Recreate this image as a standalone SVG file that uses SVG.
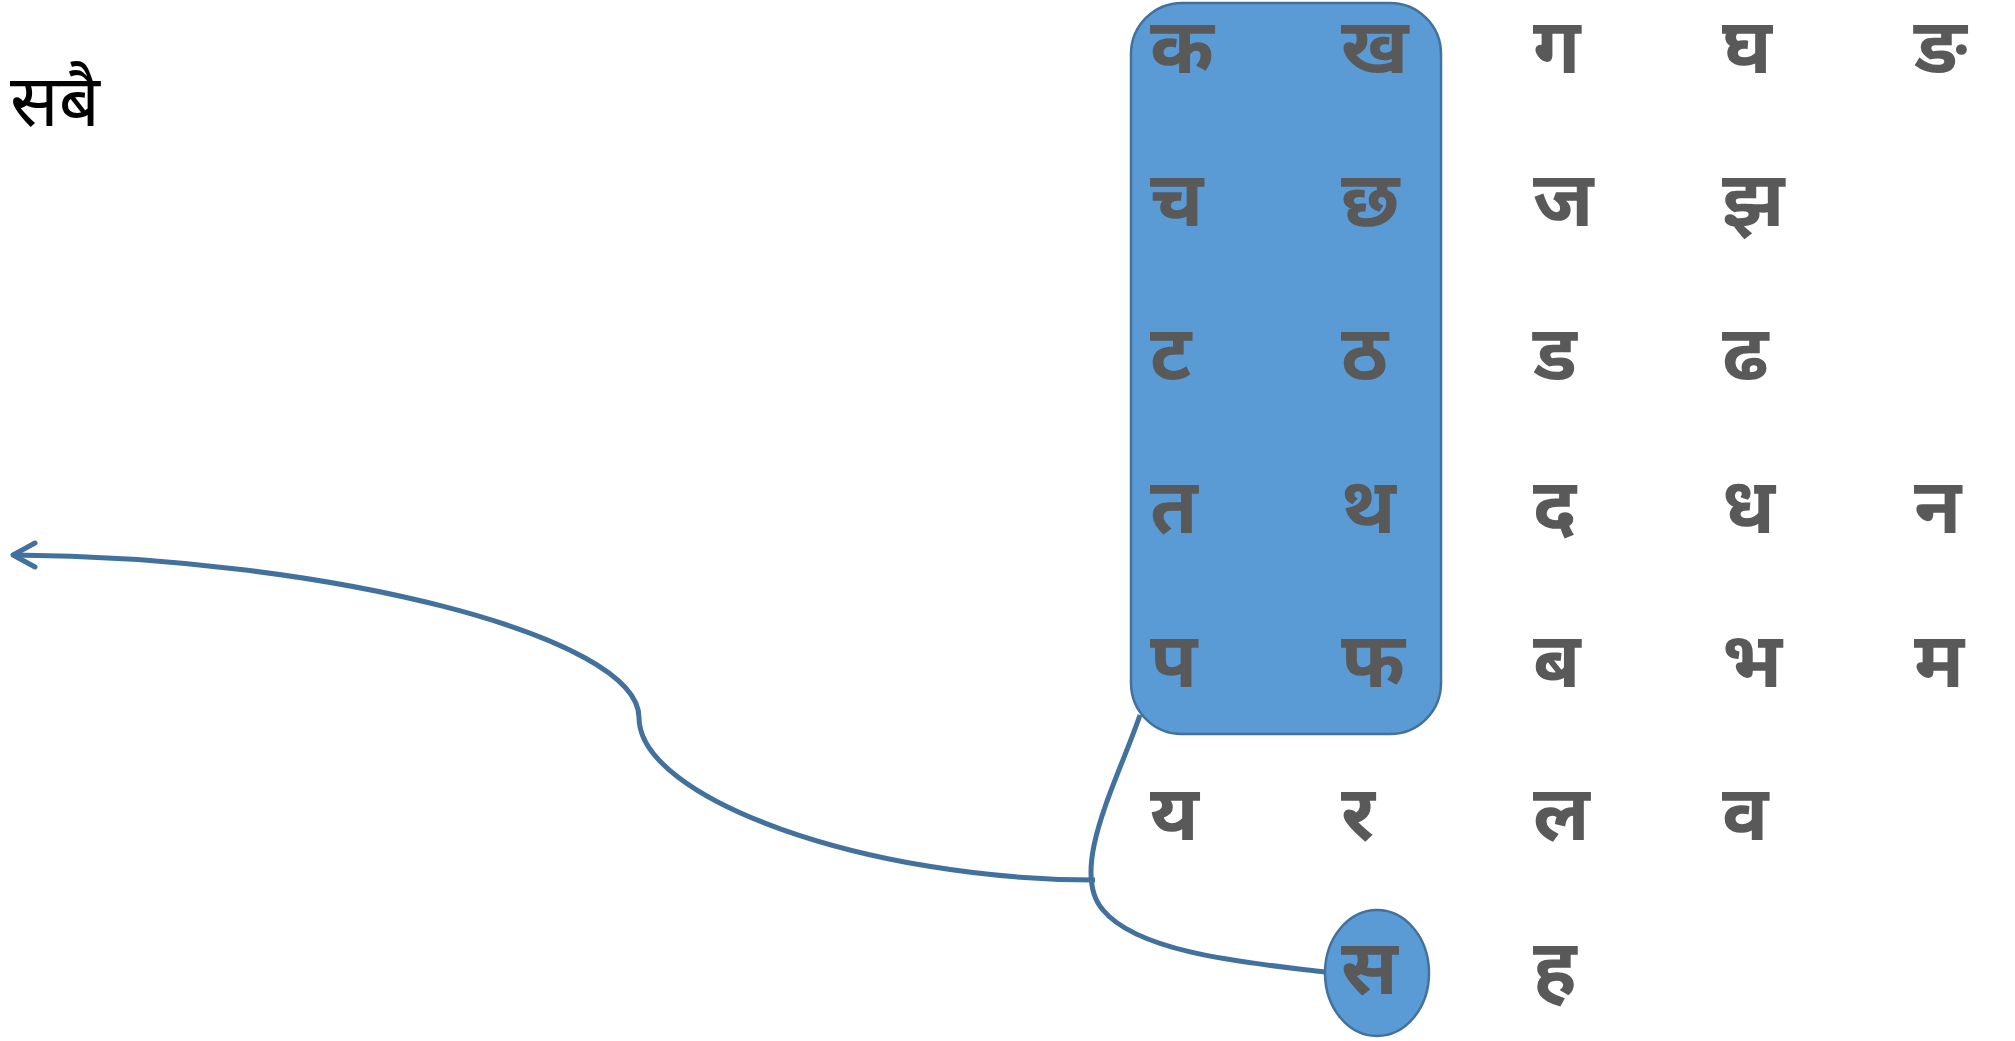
<svg xmlns="http://www.w3.org/2000/svg" width="2015" height="1041" viewBox="0 0 2015 1041">
<style>
.l{font-family:"Noto Sans Devanagari","Noto Sans",sans-serif;font-weight:bold;font-size:77px;fill:#595959}
.t{font-family:"Noto Sans Devanagari","Noto Serif Devanagari","Noto Sans",sans-serif;font-size:72px;fill:#000}
.sh{fill:#5B9BD5;stroke:#41719C;stroke-width:2.5}
.c{fill:none;stroke:#41719C;stroke-width:5}
</style>
<rect width="2015" height="1041" fill="#fff"/>
<g id="title"><text class="t" x="10" y="126">सबै</text></g>
<g id="group-box"><rect class="sh" x="1131" y="3" width="310" height="731" rx="51" ry="51"/></g>
<g id="sa-node"><ellipse class="sh" cx="1377" cy="973" rx="52" ry="63"/></g>
<g id="connectors">
<path class="c" d="M1140,715 C1118,780 1068,870 1103,910 C1140,955 1260,964 1325,972"/>
<path class="c" d="M1095,880 C867,880 639,799 639,717.5 C639,636 326,557 14,555"/>
<path class="c" d="M35,543 L13,555 L35,567" stroke-linecap="round" stroke-linejoin="round" stroke-width="5.5"/>
</g>
<g id="letters">
<text class="l" x="1150" y="73">क</text>
<text class="l" x="1341" y="73">ख</text>
<text class="l" x="1533" y="73">ग</text>
<text class="l" x="1722" y="73">घ</text>
<text class="l" x="1914" y="73">ङ</text>
<text class="l" x="1150" y="226">च</text>
<text class="l" x="1341" y="226">छ</text>
<text class="l" x="1533" y="226">ज</text>
<text class="l" x="1722" y="226">झ</text>
<text class="l" x="1150" y="380">ट</text>
<text class="l" x="1341" y="380">ठ</text>
<text class="l" x="1533" y="380">ड</text>
<text class="l" x="1722" y="380">ढ</text>
<text class="l" x="1150" y="533">त</text>
<text class="l" x="1341" y="533">थ</text>
<text class="l" x="1533" y="533">द</text>
<text class="l" x="1722" y="533">ध</text>
<text class="l" x="1914" y="533">न</text>
<text class="l" x="1150" y="687">प</text>
<text class="l" x="1341" y="687">फ</text>
<text class="l" x="1533" y="687">ब</text>
<text class="l" x="1722" y="687">भ</text>
<text class="l" x="1914" y="687">म</text>
<text class="l" x="1150" y="840">य</text>
<text class="l" x="1341" y="840">र</text>
<text class="l" x="1533" y="840">ल</text>
<text class="l" x="1722" y="840">व</text>
<text class="l" x="1341" y="994">स</text>
<text class="l" x="1533" y="994">ह</text>
</g>
</svg>
